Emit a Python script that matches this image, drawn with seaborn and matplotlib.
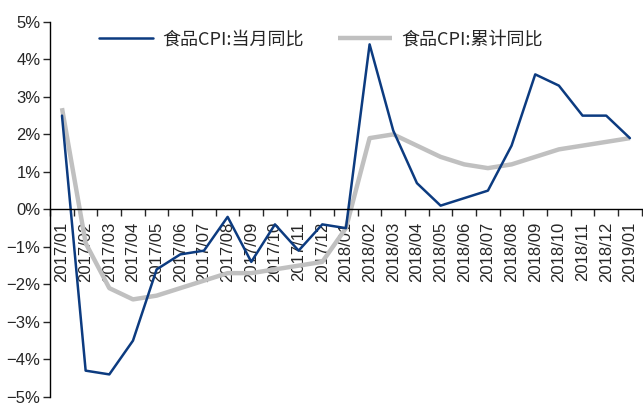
import numpy as np
import pandas as pd
import matplotlib
matplotlib.use("Agg")
import matplotlib.pyplot as plt
import seaborn as sns
from matplotlib.ticker import FixedLocator, FuncFormatter

# ================= DATA =================

months = ["2017/01", "2017/02", "2017/03", "2017/04", "2017/05", "2017/06",
          "2017/07", "2017/08", "2017/09", "2017/10", "2017/11", "2017/12",
          "2018/01", "2018/02", "2018/03", "2018/04", "2018/05", "2018/06",
          "2018/07", "2018/08", "2018/09", "2018/10", "2018/11", "2018/12",
          "2019/01"]

monthly_yoy = [2.5, -4.3, -4.4, -3.5, -1.6, -1.2, -1.1, -0.2, -1.4, -0.4,
               -1.1, -0.4, -0.5, 4.4, 2.1, 0.7, 0.1, 0.3, 0.5, 1.7,
               3.6, 3.3, 2.5, 2.5, 1.9]

cumulative_yoy = [2.7, -0.9, -2.1, -2.4, -2.3, -2.1, -1.9, -1.7, -1.7, -1.6,
                  -1.5, -1.4, -0.5, 1.9, 2.0, 1.7, 1.4, 1.2, 1.1, 1.2,
                  1.4, 1.6, 1.7, 1.8, 1.9]

series_names = ["食品CPI:当月同比", "食品CPI:累计同比"]

# ================= PLOT =================

sns.set_style("white")
plt.rcParams["font.family"] = ["Liberation Sans", "Noto Sans CJK SC", "DejaVu Sans"]
plt.rcParams["axes.unicode_minus"] = True

pos = np.arange(len(months))
df = pd.DataFrame({
    "pos": np.concatenate([pos, pos]),
    "value": monthly_yoy + cumulative_yoy,
    "series": [series_names[0]] * len(months) + [series_names[1]] * len(months),
})

fig = plt.figure(figsize=(6.43, 4.05), dpi=100)
ax = fig.add_axes([0.078, 0.02, 0.92, 0.926])

colors = {series_names[0]: "#0c3b80", series_names[1]: "#c0c0c0"}
# gray first so the blue sits on top
sns.lineplot(data=df[df.series == series_names[1]], x="pos", y="value",
             color=colors[series_names[1]], linewidth=3.2, ax=ax,
             label=series_names[1], solid_capstyle="butt")
sns.lineplot(data=df[df.series == series_names[0]], x="pos", y="value",
             color=colors[series_names[0]], linewidth=1.8, ax=ax,
             label=series_names[0])

ax.set_xlim(-0.5, len(months) - 0.5)
ax.set_ylim(-5, 5)
ax.set_yticks(np.arange(-5, 6, 1))
ax.yaxis.set_major_formatter(FuncFormatter(lambda v, p: f"{int(round(v))}%".replace("-", "\u2212")))

ax.set_xticks(pos)
ax.set_xticklabels(months)
ax.xaxis.set_minor_locator(FixedLocator(np.arange(-0.5, len(months), 1)))

ax.spines["top"].set_visible(False)
ax.spines["right"].set_visible(False)
ax.spines["bottom"].set_position(("data", 0))
for s in ["left", "bottom"]:
    ax.spines[s].set_linewidth(1.0)
    ax.spines[s].set_color("black")

ax.tick_params(axis="y", which="major", direction="out", length=5, width=1,
               labelsize=12, pad=2, left=True)
ax.tick_params(axis="x", which="major", length=0, labelsize=12, pad=9,
               labelrotation=90)
ax.tick_params(axis="x", which="minor", direction="out", length=5, width=1, bottom=True)

ax.set_xlabel("")
ax.set_ylabel("")

handles, labels = ax.get_legend_handles_labels()
order = [labels.index(n) for n in series_names]
ax.legend([handles[i] for i in order], [labels[i] for i in order],
          loc="upper left", bbox_to_anchor=(0.055, 1.02), ncol=2,
          frameon=False, handlelength=3.0, handletextpad=0.5, columnspacing=1.9,
          prop={"family": ["Noto Sans CJK SC", "DejaVu Sans"], "size": 13})

fig.savefig("out.png", dpi=100)
